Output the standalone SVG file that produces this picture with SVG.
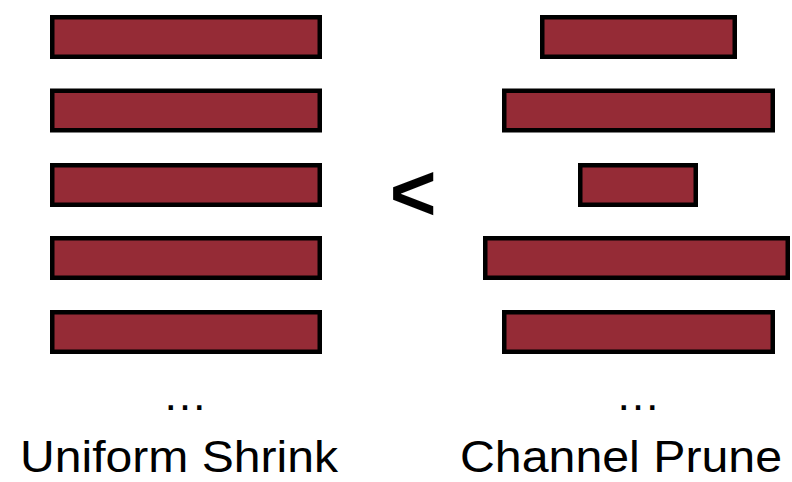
<svg xmlns="http://www.w3.org/2000/svg" width="792" height="482" viewBox="0 0 792 482">
<style>
.bar{fill:#952b36;stroke:#000;stroke-width:4.5}
.lbl{font-family:"Liberation Sans",Arial,sans-serif;font-size:45px;fill:#000;text-anchor:middle}
</style>
<rect width="792" height="482" fill="#fff"/>
<g id="uniform">
<rect class="bar" x="52.25" y="17.25" width="267.5" height="39.5"/>
<rect class="bar" x="52.25" y="90.75" width="267.5" height="39.5"/>
<rect class="bar" x="52.25" y="165.25" width="267.5" height="39.5"/>
<rect class="bar" x="52.25" y="238.25" width="267.5" height="39.5"/>
<rect class="bar" x="52.25" y="312.25" width="267.5" height="39.5"/>
<text class="lbl" x="185" y="410">…</text>
<text class="lbl" x="179" y="472" textLength="318" lengthAdjust="spacingAndGlyphs">Uniform Shrink</text>
</g>
<g id="prune">
<rect class="bar" x="542.25" y="17.25" width="192.5" height="39.5"/>
<rect class="bar" x="504.25" y="90.75" width="268.5" height="39.5"/>
<rect class="bar" x="580.25" y="165.25" width="115.5" height="39.5"/>
<rect class="bar" x="485.25" y="238.25" width="302.5" height="39.5"/>
<rect class="bar" x="504.25" y="312.25" width="268.5" height="39.5"/>
<text class="lbl" x="638" y="410">…</text>
<text class="lbl" x="621" y="472" textLength="322" lengthAdjust="spacingAndGlyphs">Channel Prune</text>
</g>
<g id="compare">
<text x="413" y="220" font-family="'Liberation Sans',Arial,sans-serif" font-size="80" font-weight="bold" text-anchor="middle">&lt;</text>
</g>
</svg>
